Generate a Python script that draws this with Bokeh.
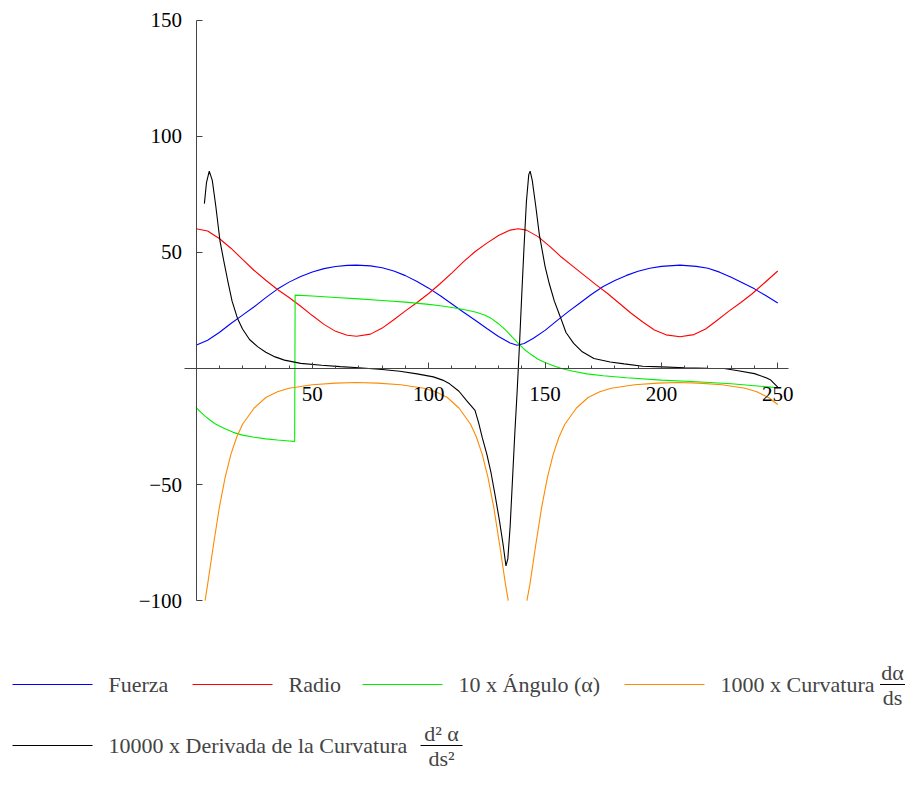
from bokeh.plotting import figure
from bokeh.models import (Range1d, LinearAxis, FixedTicker, Label, BoxAnnotation)
from bokeh.embed import file_html
from bokeh.resources import INLINE

nan = float("nan")

# ---------------- data ----------------
fuerza_x = [0, 5, 10, 15, 20, 25, 30, 35, 40, 45, 50, 55, 60, 65, 69, 75, 80, 85, 90,
            95, 100, 105, 110, 115, 120, 125, 130, 135, 138, 141, 145, 150, 155, 160,
            165, 170, 175, 180, 185, 190, 195, 200, 208, 215, 220, 225, 230, 235, 240,
            245, 250]
fuerza_y = [10.0, 12.2, 15.5, 19.4, 23.0, 26.6, 30.5, 34.2, 37.2, 39.6, 41.6, 43.0, 43.9,
            44.4, 44.5, 44.2, 43.4, 42.0, 40.0, 37.5, 34.6, 31.3, 27.8, 24.2, 20.8, 17.2,
            13.8, 11.0, 10.0, 10.8, 13.0, 16.4, 20.5, 24.5, 28.2, 32.0, 35.3, 37.9, 40.1,
            41.9, 43.2, 44.0, 44.5, 44.0, 43.2, 41.5, 39.3, 36.8, 34.3, 31.3, 28.2]

radio_x = [0, 5, 10, 15, 20, 25, 30, 35, 40, 45, 50, 55, 60, 65, 69, 75, 80, 85, 90, 95,
           100, 105, 110, 115, 120, 125, 130, 135, 138.5, 142, 147, 152, 157, 162, 167,
           172, 177, 182, 187, 192, 197, 202, 208, 214, 219, 224, 229, 234, 239, 244, 250]
radio_y = [60.2, 59.2, 56.0, 51.8, 47.0, 42.2, 38.0, 34.0, 30.6, 26.8, 22.8, 19.0, 16.0,
           14.3, 13.9, 14.8, 17.4, 21.0, 24.8, 28.4, 32.3, 36.6, 41.2, 46.0, 50.4, 54.0,
           57.3, 59.6, 60.2, 59.6, 56.8, 52.6, 48.0, 44.0, 40.0, 36.0, 32.2, 28.0, 23.8,
           20.0, 16.6, 14.5, 13.7, 14.6, 17.0, 20.8, 24.7, 28.3, 32.2, 36.6, 42.0]

angulo_x = [0, 2, 4, 6, 8, 10, 13, 16, 20, 25, 30, 35, 40, 42.4, 42.6, 50, 60, 70, 80, 90,
            100, 105, 110, 115, 120, 124, 127, 130, 133, 136, 138.5, 141, 144, 147, 150,
            153, 157, 162, 168, 175, 185, 200, 215, 230, 240, 250]
angulo_y = [-16.7, -18.8, -20.6, -22.2, -23.7, -24.8, -26.2, -27.5, -28.7, -29.6, -30.3,
            -30.8, -31.2, -31.4, 31.6, 31.2, 30.6, 30.0, 29.3, 28.6, 27.6, 27.0, 26.3, 25.4,
            24.3, 23.0, 21.5, 19.3, 16.6, 13.4, 10.8, 8.3, 6.0, 4.0, 2.6, 1.4, 0.0, -1.2,
            -2.3, -3.1, -4.0, -5.0, -5.7, -6.6, -7.4, -8.3]

curvatura_x = [3.9, 5, 7.5, 10, 12.5, 15, 17.5, 20, 25, 30, 35, 40, 50, 60, 69, 78, 88, 98,
               103, 108, 113, 118, 120.5, 123, 125.5, 128, 130.5, 133, 134.2, nan,
               142.2, 143.5, 146, 148.5, 151, 153.5, 156, 158.5, 163.5, 168.5, 173.5, 178.5,
               188.5, 198.5, 207, 216, 226, 236, 241, 246, 250]
curvatura_y = [-100, -93, -76, -60, -47, -37, -29.5, -24, -17, -12.5, -10, -8.5, -7, -6.3,
               -6.0, -6.3, -7, -8.5, -10, -12.5, -17, -24, -29.5, -37, -47, -60, -76, -93,
               -100, nan,
               -100, -93, -76, -60, -47, -37, -29.5, -24, -17, -12.5, -10, -8.5, -7, -6.3,
               -6.0, -6.3, -7, -8.5, -10, -12.5, -15.5]

derivada_x = [3.6, 4.5, 5.7, 7, 8.5, 10.3, 12, 13.6, 15.5, 17.9, 20, 23, 26.6, 30, 34, 38,
              45, 54, 62, 70, 80, 87.6, 95, 102, 106, 109, 113, 116.3, 119.9, 121.5, 123,
              125, 126.8, 128.6, 130.4, 132, 133.2, 134, 135, 136, 137, 138, 139, 140, 141,
              142, 143, 143.6, 144.5, 146, 147.5, 150, 151.8, 154, 156.6, 159, 162.3, 166,
              171, 178, 184, 192, 200, 210, 220, 227, 233, 240, 245, 247, 250]
derivada_y = [71, 80, 85, 81, 70, 55, 46, 38, 29, 21.4, 17, 12.5, 9.3, 7, 5, 3.6, 2.2, 1.4,
              0.8, 0.3, -0.4, -1.2, -2.3, -3.6, -5.0, -6.6, -9.8, -13.8, -18, -23.5, -29.7,
              -37, -45, -55, -65.5, -76, -85, -82, -68, -48, -28, -10, 10, 32, 53, 72, 83.5,
              85, 81, 70, 58, 44, 36.6, 29, 22.1, 15.5, 10.8, 7.2, 4.3, 2.8, 2.0, 1.0, 0.7,
              0.3, 0.1, 0.0, -1.0, -2.2, -4.0, -5.0, -8.0]

x_ticks = [50, 100, 150, 200, 250]
x_minor = [10, 20, 30, 40, 60, 70, 80, 90, 110, 120, 130, 140, 160, 170, 180, 190,
           210, 220, 230, 240]
y_ticks = [-100, -50, 50, 100, 150]
y_labels = {-100: "\u2212100", -50: "\u221250", 50: "50", 100: "100", 150: "150"}

labels = ["Fuerza", "Radio", "10 x \u00c1ngulo (\u03b1)", "1000 x Curvatura",
          "10000 x Derivada de la Curvatura"]
colors = ["#0000ff", "#ff0000", "#00ee00", "#ff8a00", "#000000"]

# ---------------- layout ----------------
W, H = 906, 771
PXX, PXY = 2.327, 2.322          # pixels per data unit
X0, Y0 = 195.5, 368               # position of the origin inside the figure
x_start = -X0 / PXX
x_end = x_start + W / PXX
y_end = Y0 / PXY
y_start = y_end - H / PXY

FONT = "Liberation Serif"
LEG_FS = "22px"

p = figure(width=W, height=H, output_backend="svg", toolbar_location=None,
           x_axis_location=None, y_axis_location=None,
           x_range=Range1d(x_start, x_end), y_range=Range1d(y_start, y_end),
           min_border=0, outline_line_color=None)
for g in p.grid:
    g.visible = False

axis_style = dict(axis_line_color="#444444", axis_line_width=1,
                  major_tick_line_color="#444444", minor_tick_line_color="#444444",
                  major_tick_in=6, major_tick_out=0, minor_tick_in=3, minor_tick_out=0,
                  major_label_text_font=FONT, major_label_text_font_size="21px",
                  major_label_text_color="#000000")

xaxis = LinearAxis(fixed_location=0, bounds=(-4.8, 254.7),
                   ticker=FixedTicker(ticks=x_ticks, minor_ticks=x_minor),
                   major_label_standoff=18, **axis_style)
yaxis = LinearAxis(fixed_location=0, bounds=(-100, 150),
                   ticker=FixedTicker(ticks=y_ticks, minor_ticks=[]),
                   major_label_overrides=y_labels,
                   major_label_standoff=14, **axis_style)
p.add_layout(xaxis, "below")
p.add_layout(yaxis, "left")

series = [(fuerza_x, fuerza_y), (radio_x, radio_y), (angulo_x, angulo_y),
          (curvatura_x, curvatura_y), (derivada_x, derivada_y)]
for (xs, ys), c in zip(series, colors):
    p.line(xs, ys, line_color=c, line_width=1.1)

# ---------------- legend (swatches + texts), positioned in pixels ----------------
def to_x(px):
    return x_start + px / PXX

def to_y(py):          # py measured from the top of the picture
    return y_end - py / PXY

ROW1, ROW2 = 684, 745                      # vertical centres of the two legend rows
sw_left = [12, 192, 362, 624, 12]          # left edges of the swatches
sw_row = [ROW1, ROW1, ROW1, ROW1, ROW2]
p.segment(x0=[to_x(a) for a in sw_left], x1=[to_x(a + 80) for a in sw_left],
          y0=[to_y(r) for r in sw_row], y1=[to_y(r) for r in sw_row],
          line_color=colors, line_width=1.1)
for a, r, t in zip(sw_left, sw_row, labels):
    p.add_layout(Label(x=a + 96, y=H - r, x_units="screen", y_units="screen", text=t,
                       text_font=FONT, text_font_size=LEG_FS, text_baseline="middle",
                       text_align="left"))

# fractions d(alpha)/ds and d^2(alpha)/ds^2 after the legend texts
def fraction(cx, cy_top, num, den, bar_w):
    cy = H - cy_top
    p.add_layout(Label(x=cx, y=cy + 12, x_units="screen", y_units="screen", text=num,
                       text_font=FONT, text_font_size=LEG_FS, text_align="center",
                       text_baseline="middle"))
    p.add_layout(Label(x=cx, y=cy - 13, x_units="screen", y_units="screen", text=den,
                       text_font=FONT, text_font_size=LEG_FS, text_align="center",
                       text_baseline="middle"))
    p.add_layout(BoxAnnotation(left=cx - bar_w / 2, right=cx + bar_w / 2,
                               bottom=cy - 0.5, top=cy + 0.5,
                               left_units="screen", right_units="screen",
                               bottom_units="screen", top_units="screen",
                               fill_color="#000000", fill_alpha=1, line_color=None))

fraction(892, ROW1, "d\u03b1", "ds", 25)
fraction(441, ROW2, "d\u00b2 \u03b1", "ds\u00b2", 42)

open("out.html", "w").write(file_html(p, INLINE))
